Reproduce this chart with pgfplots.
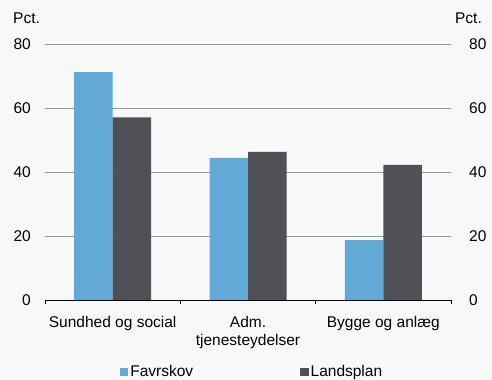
\documentclass[border=0pt]{standalone}
\usepackage{pgfplots}
\pgfplotsset{compat=1.18}
\usepackage{fontspec}
\setmainfont{Liberation Sans}
\definecolor{bg}{HTML}{F7F8F8}
\definecolor{fav}{HTML}{63A9D5}
\definecolor{land}{HTML}{505157}
\definecolor{gridc}{HTML}{9A9A9A}
\begin{document}
\fontsize{15.5bp}{18.5bp}\selectfont
\begin{tikzpicture}
\fill[bg] (0,0) rectangle (492bp,380bp);
\useasboundingbox (0,0) rectangle (492bp,380bp);
\begin{axis}[
  at={(45bp,79.7bp)}, anchor=south west,
  scale only axis, width=406bp, height=256bp,
  xmin=-0.5, xmax=2.5, ymin=0, ymax=80,
  ybar=0pt, bar width=38.5bp,
  separate axis lines,
  axis x line*=bottom, axis y line*=left,
  x axis line style={draw=none,-}, y axis line style={draw=none,-},
  xtick={0,1,2},
  xticklabels={Sundhed og social,{Adm.\\tjenesteydelser},Bygge og anlæg},
  xtick style={draw=none},
  ytick={0,20,40,60,80}, ytick style={draw=none},
  ymajorgrids, major grid style={gridc, line width=1bp},
  /pgf/number format/assume math mode=true,
  tick label style={font=\fontsize{15.5bp}{18.5bp}\selectfont},
  yticklabel style={anchor=east, inner sep=0pt, xshift=-14bp},
  xticklabel style={align=center, anchor=north, inner sep=0pt, yshift=-11.4bp},
  legend style={at={(0.5,-0.245)}, anchor=north, xshift=4bp, draw=none, fill=none,
    legend columns=2, font=\fontsize{15.5bp}{18.5bp}\selectfont,
    /tikz/every even column/.append style={column sep=105bp},
    inner sep=0pt},
]
\addplot[fill=fav, draw=none,
  legend image code/.code={\fill[fav] (0bp,-4.3bp) rectangle (8.5bp,4.3bp);}]
  coordinates {(0,71.3) (1,44.5) (2,18.8)};
\addlegendentry{Favrskov}
\addplot[fill=land, draw=none,
  legend image code/.code={\fill[land] (0bp,-4.3bp) rectangle (8.5bp,4.3bp);}]
  coordinates {(0,57.2) (1,46.4) (2,42.3)};
\addlegendentry{Landsplan}
\end{axis}
\begin{axis}[
  at={(45bp,79.7bp)}, anchor=south west,
  scale only axis, width=406bp, height=256bp,
  xmin=-0.5, xmax=2.5, ymin=0, ymax=80,
  axis x line*=bottom, axis y line*=right,
  x axis line style={black, line width=1.3bp, -},
  y axis line style={draw=none, -},
  xtick={-0.5,0.5,1.5,2.5}, xticklabels={},
  xtick style={black, line width=1bp},
  tick align=outside, major tick length=4bp,
  ytick={0,20,40,60,80}, ytick style={draw=none},
  /pgf/number format/assume math mode=true,
  tick label style={font=\fontsize{15.5bp}{18.5bp}\selectfont},
  yticklabel style={anchor=west, inner sep=0pt, xshift=14bp},
]
\addplot[draw=none, forget plot] coordinates {(0,0)};
\end{axis}
\node[anchor=base west, inner sep=0pt] at (13bp,356.5bp) {Pct.};
\node[anchor=base east, inner sep=0pt] at (482bp,356.5bp) {Pct.};
\end{tikzpicture}
\end{document}
